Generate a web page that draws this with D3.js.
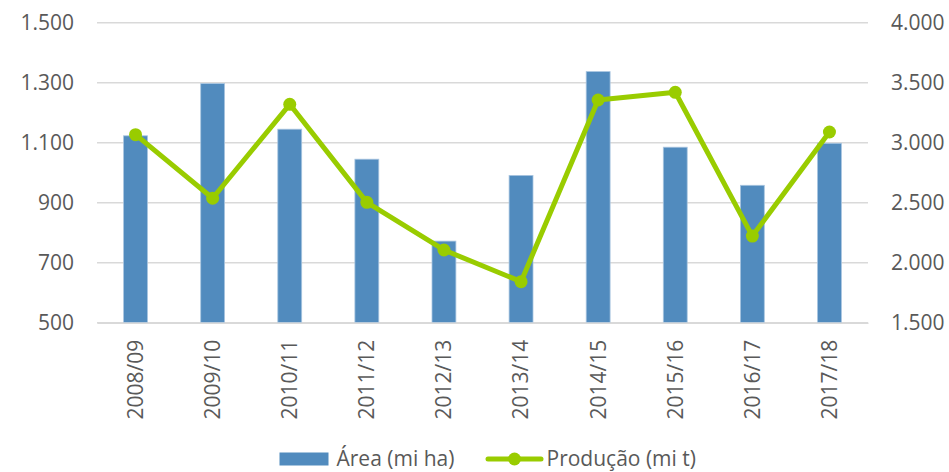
<!DOCTYPE html>
<html>
<head>
<meta charset="utf-8">
<script src="https://cdn.jsdelivr.net/npm/d3@7/dist/d3.min.js"></script>
<style>
  html, body { margin: 0; padding: 0; background: #fff; }
  svg { display: block; font-family: "Open Sans", Lato, sans-serif; }
</style>
</head>
<body>
<svg id="chart" width="949" height="472"></svg>
<script>
// Safras (categorias)
const safras = ["2008/09", "2009/10", "2010/11", "2011/12", "2012/13",
                "2013/14", "2014/15", "2015/16", "2016/17", "2017/18"];
// Área plantada (mil hectares)
const area = [1123, 1297, 1145, 1045, 772, 991, 1337, 1085, 958, 1098];
// Produção (mil toneladas)
const producao = [3067, 2537, 3320, 2503, 2106, 1842, 3356, 3420, 2222, 3089];
// Ticks dos eixos
const ticksArea = [500, 700, 900, 1100, 1300, 1500];
const ticksProducao = [1500, 2000, 2500, 3000, 3500, 4000];
const seriesNames = ["Área (mi ha)", "Produção (mi t)"];

const fmt = d3.formatLocale({ decimal: ",", thousands: ".", grouping: [3], currency: ["R$", ""] }).format(",d");

const svg = d3.select("#chart");
const plotLeft = 97, plotRight = 868, plotTop = 22.7, plotBottom = 322.7;
const textColor = "#595959";
const fontFamily = "Open Sans";
const fontSize = 21;
const blue = "#518BBE";
const green = "#99CC00";

const x = d3.scaleBand().domain(safras).range([plotLeft, plotRight])
  .paddingInner(0.69).paddingOuter(0.345);
const yL = d3.scaleLinear().domain([500, 1500]).range([plotBottom, plotTop]);
const yR = d3.scaleLinear().domain([1500, 4000]).range([plotBottom, plotTop]);

// Linhas de grade
svg.append("g").selectAll("line").data(ticksArea).join("line")
  .attr("x1", plotLeft).attr("x2", plotRight)
  .attr("y1", d => yL(d)).attr("y2", d => yL(d))
  .attr("stroke", "#d9d9d9").attr("stroke-width", 1.5);

// Eixo esquerdo
const axL = svg.append("g").attr("transform", `translate(${plotLeft - 23},0)`)
  .call(d3.axisLeft(yL).tickValues(ticksArea).tickFormat(fmt).tickSize(0).tickPadding(0));
axL.select(".domain").remove();
axL.selectAll("text").attr("font-size", fontSize).attr("fill", textColor).attr("font-family", fontFamily);

// Eixo direito
const axR = svg.append("g").attr("transform", `translate(${plotRight + 23},0)`)
  .call(d3.axisRight(yR).tickValues(ticksProducao).tickFormat(fmt).tickSize(0).tickPadding(0));
axR.select(".domain").remove();
axR.selectAll("text").attr("font-size", fontSize).attr("fill", textColor).attr("font-family", fontFamily);

// Barras de área
svg.append("g").selectAll("rect").data(area).join("rect")
  .attr("x", (d, i) => x(safras[i]))
  .attr("y", d => yL(d))
  .attr("width", x.bandwidth())
  .attr("height", d => yL(500) - yL(d))
  .attr("fill", blue)
  .attr("stroke", "#a9c5e0").attr("stroke-width", 0.8);

// Eixo de categorias
const axB = svg.append("g").attr("transform", `translate(0,${plotBottom})`)
  .call(d3.axisBottom(x).tickSize(0).tickPadding(0));
axB.select(".domain").attr("stroke", "#d9d9d9").attr("stroke-width", 1.5);
axB.selectAll("text")
  .attr("font-size", fontSize).attr("fill", textColor).attr("font-family", fontFamily)
  .attr("transform", "rotate(-90)")
  .attr("text-anchor", "end")
  .attr("dy", "0.35em")
  .attr("x", -17).attr("y", 0);

// Linha de produção
const cx = i => x(safras[i]) + x.bandwidth() / 2;
const line = d3.line().x((d, i) => cx(i)).y(d => yR(d));
svg.append("path").datum(producao)
  .attr("d", line).attr("fill", "none")
  .attr("stroke", green).attr("stroke-width", 5)
  .attr("stroke-linejoin", "round").attr("stroke-linecap", "round");
svg.append("g").selectAll("circle").data(producao).join("circle")
  .attr("cx", (d, i) => cx(i)).attr("cy", d => yR(d))
  .attr("r", 6.5).attr("fill", green);

// Legenda
const lg = svg.append("g").attr("font-family", fontFamily).attr("font-size", fontSize).attr("fill", textColor);
lg.append("rect").attr("x", 279.5).attr("y", 452.5).attr("width", 49).attr("height", 13).attr("fill", blue);
lg.append("text").attr("x", 336.5).attr("y", 459).attr("dy", "0.35em").text(seriesNames[0]);
lg.append("line").attr("x1", 488).attr("x2", 541).attr("y1", 459).attr("y2", 459)
  .attr("stroke", green).attr("stroke-width", 5).attr("stroke-linecap", "round");
lg.append("circle").attr("cx", 514.5).attr("cy", 459).attr("r", 6.5).attr("fill", green);
lg.append("text").attr("x", 546.5).attr("y", 459).attr("dy", "0.35em").text(seriesNames[1]);
</script>
</body>
</html>
